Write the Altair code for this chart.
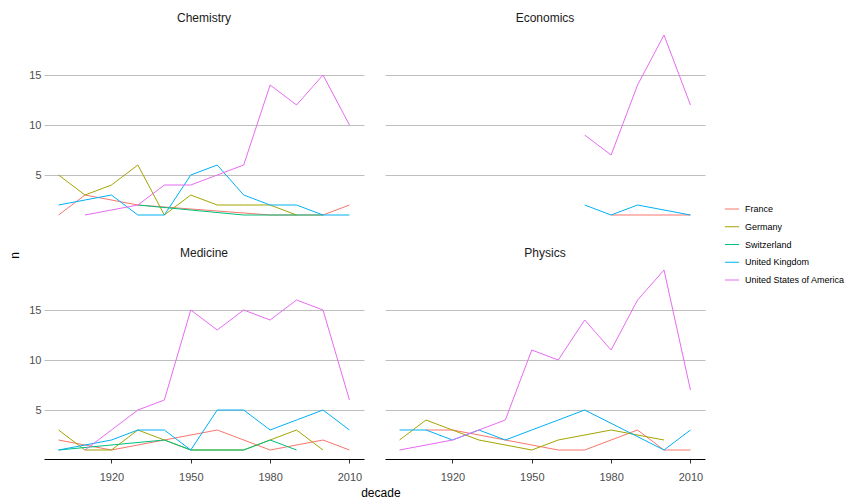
import altair as alt
import pandas as pd

decades = [1900, 1910, 1920, 1930, 1940, 1950, 1960, 1970, 1980, 1990, 2000, 2010]
prizes = ["Chemistry", "Economics", "Medicine", "Physics"]
countries = ["France", "Germany", "Switzerland", "United Kingdom", "United States of America"]
colors = ["#F8766D", "#A3A500", "#00BF7D", "#00B0F6", "#E76BF3"]

N = None
# Chemistry
chemistry_france = [1, 3, N, 2, N, N, N, N, 1, N, 1, 2]
chemistry_germany = [5, 3, 4, 6, 1, 3, 2, 2, 2, 1, N, N]
chemistry_switzerland = [N, N, N, 2, N, N, N, 1, 1, 1, 1, N]
chemistry_uk = [2, N, 3, 1, 1, 5, 6, 3, 2, 2, 1, 1]
chemistry_usa = [N, 1, N, 2, 4, 4, 5, 6, 14, 12, 15, 10]
# Economics
economics_france = [N, N, N, N, N, N, N, N, 1, 1, 1, 1]
economics_uk = [N, N, N, N, N, N, N, 2, 1, 2, N, 1]
economics_usa = [N, N, N, N, N, N, N, 9, 7, 14, 19, 12]
# Medicine
medicine_france = [2, N, 1, N, N, N, 3, N, 1, N, 2, 1]
medicine_germany = [3, 1, 1, 3, 2, 1, 1, 1, 2, 3, 1, N]
medicine_switzerland = [1, N, N, N, 2, 1, 1, 1, 2, 1, N, N]
medicine_uk = [1, N, 2, 3, 3, 1, 5, 5, 3, 4, 5, 3]
medicine_usa = [N, 1, 3, 5, 6, 15, 13, 15, 14, 16, 15, 6]
# Physics
physics_france = [N, 3, 3, N, N, N, 1, 1, 2, 3, 1, 1]
physics_germany = [2, 4, 3, 2, N, 1, 2, N, 3, N, 2, N]
physics_uk = [3, 3, 2, 3, 2, 3, N, 5, N, N, 1, 3]
physics_usa = [1, N, 2, 3, 4, 11, 10, 14, 11, 16, 19, 7]

series = [
    ("Chemistry", "France", chemistry_france),
    ("Chemistry", "Germany", chemistry_germany),
    ("Chemistry", "Switzerland", chemistry_switzerland),
    ("Chemistry", "United Kingdom", chemistry_uk),
    ("Chemistry", "United States of America", chemistry_usa),
    ("Economics", "France", economics_france),
    ("Economics", "United Kingdom", economics_uk),
    ("Economics", "United States of America", economics_usa),
    ("Medicine", "France", medicine_france),
    ("Medicine", "Germany", medicine_germany),
    ("Medicine", "Switzerland", medicine_switzerland),
    ("Medicine", "United Kingdom", medicine_uk),
    ("Medicine", "United States of America", medicine_usa),
    ("Physics", "France", physics_france),
    ("Physics", "Germany", physics_germany),
    ("Physics", "United Kingdom", physics_uk),
    ("Physics", "United States of America", physics_usa),
]

rows = []
for prize, country, vals in series:
    for d, v in zip(decades, vals):
        if v is not None:
            rows.append({"prize": prize, "country": country, "decade": d, "n": v})
df = pd.DataFrame(rows)

FONT = "Liberation Sans"

lines = alt.Chart(df).mark_line(strokeWidth=1).encode(
    x=alt.X("decade:Q",
            scale=alt.Scale(domain=[1894.5, 2015.5], nice=False, zero=False),
            axis=alt.Axis(values=[1920, 1950, 1980, 2010], format="d", title=None,
                          grid=False, domain=True, domainColor="#000000",
                          ticks=True, tickColor="#333333", tickSize=4,
                          labelPadding=8, labelFontSize=11, labelColor="#4d4d4d",
                          labelFont=FONT)),
    y=alt.Y("n:Q",
            scale=alt.Scale(domain=[0.1, 19.9], nice=False, zero=False),
            axis=alt.Axis(values=[5, 10, 15], title=None, domain=False, ticks=False,
                          grid=True, gridColor="#bebebe", gridWidth=1,
                          labelPadding=3, labelFontSize=11, labelColor="#4d4d4d",
                          labelFont=FONT)),
    color=alt.Color("country:N",
                    scale=alt.Scale(domain=countries, range=colors),
                    legend=alt.Legend(title=None, orient="none", legendX=680, legendY=178,
                                      symbolType="stroke", symbolSize=200,
                                      symbolStrokeWidth=1, labelFontSize=9,
                                      labelFont=FONT, labelColor="#000000",
                                      rowPadding=7.75, clipHeight=10, labelOffset=5)),
    order=alt.Order("decade:Q"),
).properties(width=320, height=198)

facet = lines.facet(
    facet=alt.Facet("prize:N", sort=prizes, title=None,
                    header=alt.Header(labelFontSize=12, labelFont=FONT,
                                      labelColor="#1a1a1a", labelPadding=1)),
    columns=2,
    spacing={"row": 23, "column": 21},
).properties(
    title=alt.TitleParams("decade", orient="bottom", anchor="middle", fontSize=12,
                          font=FONT, fontWeight="normal", color="#000000", offset=6,
                          dx=14)
)

chart = alt.vconcat(facet).properties(
    title=alt.TitleParams("n", orient="left", anchor="middle", fontSize=12,
                          font=FONT, fontWeight="normal", color="#000000", offset=7),
    padding={"left": 0, "top": 4, "right": 0, "bottom": 0},
).configure(background="white").configure_view(stroke=None)

chart.save("out.html", embed_options={"renderer": "svg", "actions": False})
